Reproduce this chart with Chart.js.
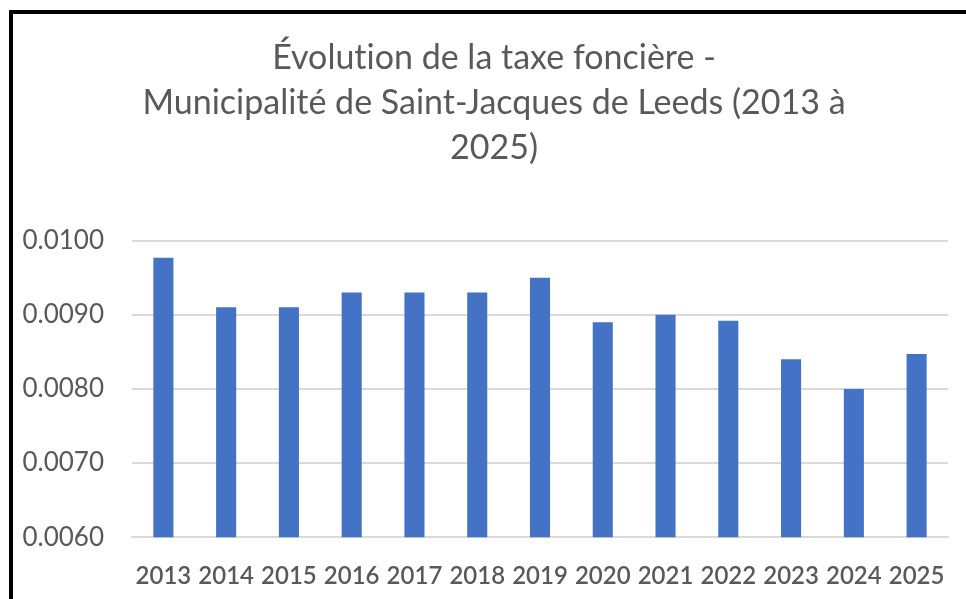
<!DOCTYPE html>
<html>
<head>
<meta charset="utf-8">
<script src="https://cdn.jsdelivr.net/npm/chart.js@4"></script>
<style>
  html, body { margin: 0; padding: 0; background: #fff; overflow: hidden; }
  #frame {
    position: absolute; left: 9px; top: 10px;
    width: 980px; height: 620px;
    border-top: 4px solid #000; border-left: 4px solid #000;
    box-sizing: border-box;
  }
  #wrap { position: absolute; left: 0; top: 0; width: 966px; height: 599px; }
</style>
</head>
<body>
<div id="frame"></div>
<div id="wrap"><canvas id="myChart" width="966" height="599"></canvas></div>
<script>
// taux de la taxe fonciere
const years = ['2013','2014','2015','2016','2017','2018','2019','2020','2021','2022','2023','2024','2025'];
const rates = [0.00977, 0.00910, 0.00910, 0.00930, 0.00930, 0.00930, 0.00950, 0.00890, 0.00900, 0.00892, 0.00840, 0.00800, 0.00847];
// \u200C keeps the "ti" from turning into a ligature
const titleLines = ['Évolut\u200Cion de la taxe foncière -', 'Municipalité de Saint-Jacques de Leeds (2013 à', '2025)'];
const yMin = 0.006;
const yMax = 0.010;
const yStep = 0.001;

const canvas = document.getElementById('myChart');
const ctx = canvas.getContext('2d');

// the title sits a bit right of the page centre in the original
const shiftTitle = {
  id: 'shiftTitle',
  afterLayout(chart) {
    if (chart.titleBlock) {
      chart.titleBlock.left += 10;
      chart.titleBlock.right += 10;
    }
  }
};

const data = {
  labels: years,
  datasets: [{
    label: 'Taux',
    backgroundColor: '#4472C4',
    borderWidth: 0,
    data: rates,
    categoryPercentage: 1,
    barPercentage: 0.32
  }]
};

const config = {
  type: 'bar',
  data: data,
  plugins: [shiftTitle],
  options: {
    responsive: false,
    animation: false,
    layout: { padding: { left: 20, right: 18, top: 36, bottom: -9 } },
    plugins: {
      legend: { display: false },
      tooltip: { enabled: false },
      title: {
        display: true,
        text: titleLines,
        color: '#595959',
        font: { family: 'Lato', size: 34, weight: 'normal', lineHeight: 1.32 },
        padding: { top: 0, bottom: 70 }
      }
    },
    scales: {
      x: {
        grid: { display: false },
        border: { display: true, color: '#D9D9D9', width: 2 },
        ticks: {
          color: '#595959',
          font: { family: 'Lato', size: 24, weight: '600' },
          maxRotation: 0,
          padding: 17
        }
      },
      y: {
        min: yMin,
        max: yMax,
        grid: { color: '#D9D9D9', lineWidth: 2, drawTicks: false },
        border: { display: false },
        afterFit(scale) { scale.width = 112; },
        ticks: {
          stepSize: yStep,
          color: '#595959',
          font: { family: 'Lato', size: 26 },
          padding: 28,
          callback: function (v) { return v.toFixed(4); }
        }
      }
    }
  }
};

const myChart = new Chart(ctx, config);
</script>
</body>
</html>
